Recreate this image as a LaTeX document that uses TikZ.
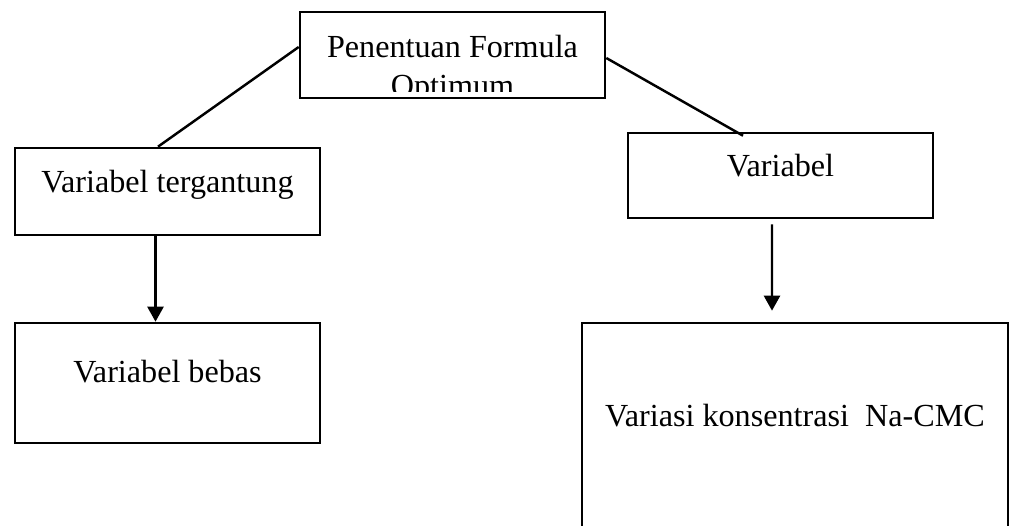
\documentclass[tikz,border=0pt]{standalone}
\usepackage{fontspec}
\setmainfont{Liberation Serif}
\usepackage{tikz}
\usetikzlibrary{arrows.meta,positioning}

\begin{document}
\begin{tikzpicture}[font=\fontsize{18.3}{22.5}\selectfont,
    box/.style={draw,line width=1.5pt,inner sep=0pt,minimum width=6.1cm},
    link/.style={line width=1.4pt},
    arr/.style={line width=1.4pt,-{Triangle[length=0.3cm,width=0.32cm]}}]
    \useasboundingbox (0,0) rectangle (20.2,-10.5);
    \clip (0,0) rectangle (20.2,-10.5);
    % top box, second line cut off by the frame
    \node[box,minimum height=1.72cm] (formula) at (9.05,-1.1) {};
    \begin{scope}
      \clip (formula.north west) rectangle ([yshift=0.16cm]formula.south east);
      \node[align=center,anchor=north,inner sep=0pt] (formulatext) at ([yshift=-0.48cm]formula.north) {Penentuan Formula\\Optimum};
    \end{scope}
    \node[box,text height=0.88cm,text depth=0.86cm] (tergantung) at (3.35,-3.83) {Variabel tergantung};
    \node[box,text height=1.18cm,text depth=1.22cm] (bebas) at (3.35,-7.66) {Variabel bebas};
    \node[box,text height=0.86cm,text depth=0.84cm] (variabel) at (15.61,-3.51) {Variabel};
    \node[box,minimum width=8.52cm,text height=2.06cm,text depth=2.8cm] (nacmc) at (15.9,-8.89) {Variasi konsentrasi~ Na-CMC};
    \draw[link] ([yshift=0.16cm]formula.west) -- ([xshift=-0.19cm]tergantung.north);
    \draw[link] ([yshift=-0.06cm]formula.east) -- ([xshift=-0.75cm,yshift=-0.08cm]variabel.north);
    \draw[arr] ([xshift=-0.24cm]tergantung.south) -- ([xshift=-0.24cm]bebas.north);
    \draw[arr] ([xshift=-0.17cm,yshift=-0.1cm]variabel.south) -- ([xshift=-0.46cm,yshift=0.22cm]nacmc.north);
  \end{tikzpicture}
\end{document}
